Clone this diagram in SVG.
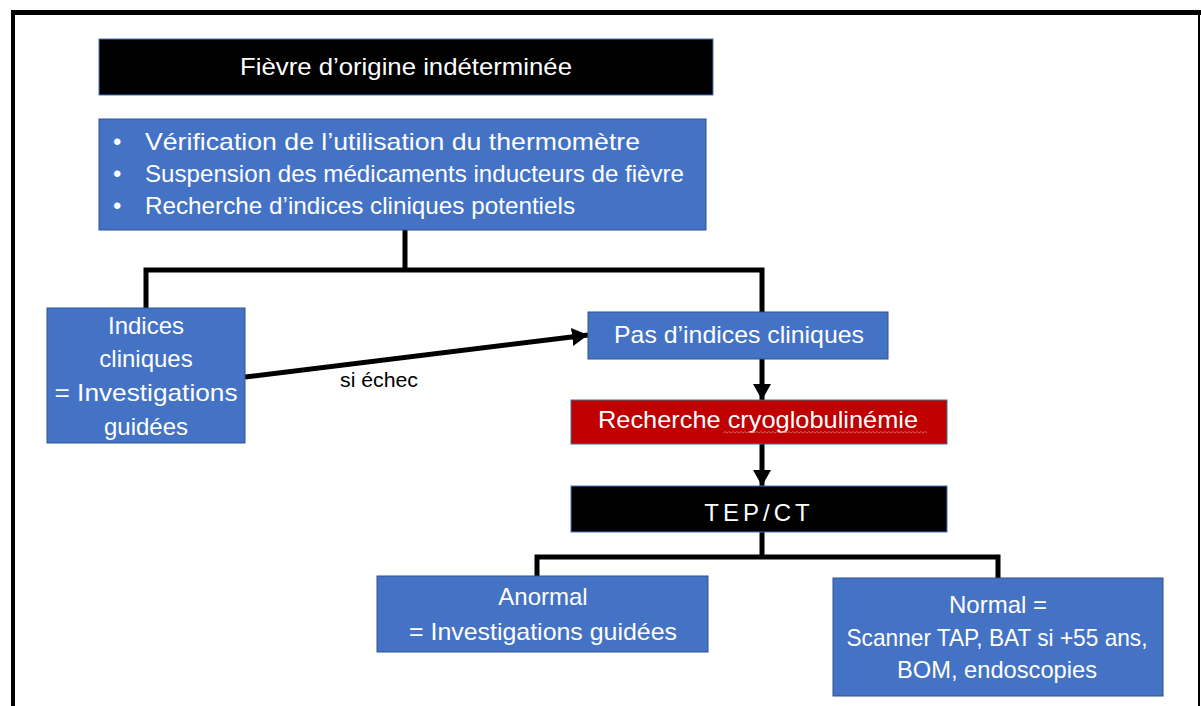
<svg xmlns="http://www.w3.org/2000/svg" width="1201" height="706" viewBox="0 0 1201 706">
<defs>
<style>
.t{font-family:"Liberation Sans",Arial,sans-serif;font-size:24px;fill:#fff;}
.c{text-anchor:middle;}
.blue{fill:#4472C4;stroke:#2F528F;stroke-width:1;}
.blk{fill:#000;stroke:#4472C4;stroke-width:1;}
.red{fill:#C00000;stroke:#41719C;stroke-width:1;}
.ln{fill:none;stroke:#000;stroke-width:5;}
</style>
<marker id="ah" markerUnits="userSpaceOnUse" markerWidth="20" markerHeight="20" refX="16" refY="9" orient="auto">
<path d="M0,0 L16,9 L0,18 Z" fill="#000"/>
</marker>
</defs>
<rect width="1201" height="706" fill="#fff"/>
<g id="frame" fill="none" stroke="#000">
<line x1="13" y1="12" x2="13" y2="706" stroke-width="4"/>
<line x1="11" y1="12.5" x2="1201" y2="12.5" stroke-width="5"/>
<line x1="1199" y1="12" x2="1199" y2="706" stroke-width="2"/>
</g>
<g id="connectors">
<polyline class="ln" points="405,230 405,270"/>
<polyline class="ln" points="146,308 146,270 762,270 762,313"/>
<line class="ln" x1="245" y1="377" x2="588" y2="335" marker-end="url(#ah)"/>
<text x="340" y="387" font-family="Liberation Sans,Arial,sans-serif" font-size="21" fill="#000" textLength="78" lengthAdjust="spacingAndGlyphs">si échec</text>
<line class="ln" x1="762" y1="359" x2="762" y2="400" marker-end="url(#ah)"/>
<line class="ln" x1="762" y1="444" x2="762" y2="486" marker-end="url(#ah)"/>
<polyline class="ln" points="762,532 762,557"/>
<polyline class="ln" points="537,577 537,557 998,557 998,580"/>
</g>
<g id="n-title">
<rect class="blk" x="99" y="39" width="614" height="56"/>
<text class="t c" x="406" y="75" textLength="332" lengthAdjust="spacingAndGlyphs">Fièvre d’origine indéterminée</text>
</g>
<g id="n-steps">
<rect class="blue" x="99" y="119" width="607" height="111"/>
<text class="t" x="113" y="150">•</text>
<text class="t" x="113" y="182">•</text>
<text class="t" x="113" y="214">•</text>
<text class="t" x="145" y="150" textLength="495" lengthAdjust="spacingAndGlyphs">Vérification de l’utilisation du thermomètre</text>
<text class="t" x="145" y="182" textLength="539" lengthAdjust="spacingAndGlyphs">Suspension des médicaments inducteurs de fièvre</text>
<text class="t" x="145" y="214" textLength="430" lengthAdjust="spacingAndGlyphs">Recherche d’indices cliniques potentiels</text>
</g>
<g id="n-indices">
<rect class="blue" x="47" y="308" width="198" height="135"/>
<text class="t c" x="146" y="334">Indices</text>
<text class="t c" x="146" y="367">cliniques</text>
<text class="t c" x="146" y="401" textLength="183" lengthAdjust="spacingAndGlyphs">= Investigations</text>
<text class="t c" x="146" y="435">guidées</text>
</g>
<g id="n-pas">
<rect class="blue" x="588" y="312" width="300" height="47"/>
<text class="t c" x="739" y="343" textLength="250" lengthAdjust="spacingAndGlyphs">Pas d’indices cliniques</text>
</g>
<g id="n-cryo">
<rect class="red" x="571" y="400" width="376" height="44"/>
<text class="t c" x="758" y="428" textLength="320" lengthAdjust="spacingAndGlyphs">Recherche cryoglobulinémie</text>
<path d="M723,433 l2,-1.5 l2,1.5 l2,-1.5 l2,1.5 l2,-1.5 l2,1.5 l2,-1.5 l2,1.5 l2,-1.5 l2,1.5 l2,-1.5 l2,1.5 l2,-1.5 l2,1.5 l2,-1.5 l2,1.5 l2,-1.5 l2,1.5 l2,-1.5 l2,1.5 l2,-1.5 l2,1.5 l2,-1.5 l2,1.5 l2,-1.5 l2,1.5 l2,-1.5 l2,1.5 l2,-1.5 l2,1.5 l2,-1.5 l2,1.5 l2,-1.5 l2,1.5 l2,-1.5 l2,1.5 l2,-1.5 l2,1.5 l2,-1.5 l2,1.5 l2,-1.5 l2,1.5 l2,-1.5 l2,1.5 l2,-1.5 l2,1.5 l2,-1.5 l2,1.5 l2,-1.5 l2,1.5 l2,-1.5 l2,1.5 l2,-1.5 l2,1.5 l2,-1.5 l2,1.5 l2,-1.5 l2,1.5 l2,-1.5 l2,1.5 l2,-1.5 l2,1.5 l2,-1.5 l2,1.5 l2,-1.5 l2,1.5 l2,-1.5 l2,1.5 l2,-1.5 l2,1.5 l2,-1.5 l2,1.5 l2,-1.5 l2,1.5 l2,-1.5 l2,1.5 l2,-1.5 l2,1.5 l2,-1.5 l2,1.5 l2,-1.5 l2,1.5 l2,-1.5 l2,1.5 l2,-1.5 l2,1.5 l2,-1.5 l2,1.5 l2,-1.5 l2,1.5 l2,-1.5 l2,1.5 l2,-1.5 l2,1.5 l2,-1.5 l2,1.5 l2,-1.5 l2,1.5 l2,-1.5 l2,1.5 l2,-1.5 l2,1.5" fill="none" stroke="#E07070" stroke-width="0.8"/>
</g>
<g id="n-tep">
<rect class="blk" x="571" y="486" width="376" height="46"/>
<text class="t c" x="759" y="521" font-size="26" letter-spacing="4">TEP/CT</text>
</g>
<g id="n-anormal">
<rect class="blue" x="377" y="576" width="331" height="76"/>
<text class="t c" x="543" y="605">Anormal</text>
<text class="t c" x="543" y="640" textLength="268" lengthAdjust="spacingAndGlyphs">= Investigations guidées</text>
</g>
<g id="n-normal">
<rect class="blue" x="833" y="578" width="330" height="118"/>
<text class="t c" x="998" y="613">Normal =</text>
<text class="t c" x="997" y="646" textLength="301" lengthAdjust="spacingAndGlyphs">Scanner TAP, BAT si +55 ans,</text>
<text class="t c" x="997" y="678" textLength="200" lengthAdjust="spacingAndGlyphs">BOM, endoscopies</text>
</g>
</svg>
